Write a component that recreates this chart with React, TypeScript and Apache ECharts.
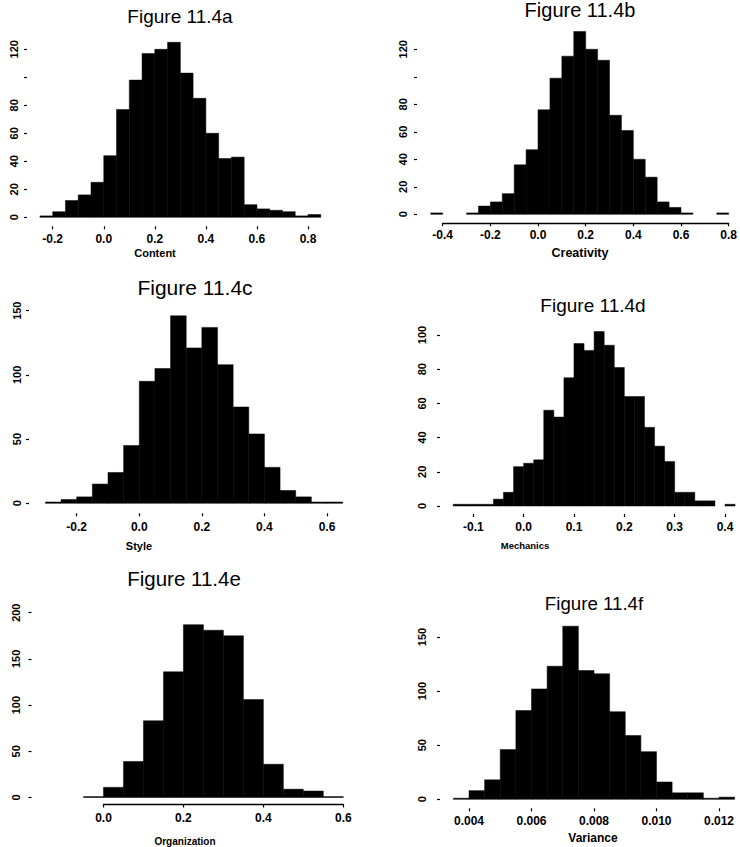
import React, { useEffect, useRef } from 'react';
import * as echarts from 'echarts';

// ---------- data ----------
const contentStart = -0.25;
const contentBin = 0.05;
const contentCounts = [1, 4, 12, 16, 25, 44, 77, 98, 117, 120, 125, 103, 85, 60, 42, 43, 9, 6, 5, 4, 1, 2];

const creativityStart = -0.45;
const creativityBin = 0.05;
const creativityCounts = [1, 0, 0, 1, 6, 9, 15, 36, 47, 76, 99, 115, 133, 120, 112, 72, 61, 40, 27, 9, 5, 1, 0, 0, 1];

const styleStart = -0.3;
const styleBin = 0.05;
const styleCounts = [1, 3, 5, 15, 24, 45, 95, 105, 146, 121, 137, 108, 75, 54, 28, 10, 5, 1, 1];

const mechanicsStart = -0.14;
const mechanicsBin = 0.02;
const mechanicsCounts = [1, 1, 1, 1, 4, 8, 23, 25, 27, 56, 52, 75, 95, 91, 102, 94, 81, 64, 64, 46, 35, 26, 8, 8, 3, 3, 0, 1];

const organizationStart = -0.05;
const organizationBin = 0.05;
const organizationCounts = [1, 11, 39, 83, 136, 187, 181, 175, 106, 36, 9, 7, 1];

const varianceStart = 0.0035;
const varianceBin = 0.0005;
const varianceCounts = [1, 8, 18, 46, 82, 102, 123, 160, 119, 116, 81, 59, 44, 16, 6, 6, 1, 2];

const titles = ['Figure 11.4a', 'Figure 11.4b', 'Figure 11.4c', 'Figure 11.4d', 'Figure 11.4e', 'Figure 11.4f'];
const xNames = ['Content', 'Creativity', 'Style', 'Mechanics', 'Organization', 'Variance'];

// x axis ranges / tick steps
const xMins = [-0.2, -0.4, -0.2, -0.1, 0, 0.004];
const xMaxs = [0.8, 0.8, 0.6, 0.4, 0.6, 0.012];
const xSteps = [0.2, 0.2, 0.2, 0.1, 0.2, 0.002];
const xDecimals = [1, 1, 1, 1, 1, 3];
// y axis ranges / tick steps
const yMaxs = [120, 120, 150, 100, 200, 150];
const ySteps = [20, 20, 50, 20, 50, 50];
const yHidden = [[100], [100], [], [], [], []];

const histData = [
  [contentStart, contentBin, contentCounts],
  [creativityStart, creativityBin, creativityCounts],
  [styleStart, styleBin, styleCounts],
  [mechanicsStart, mechanicsBin, mechanicsCounts],
  [organizationStart, organizationBin, organizationCounts],
  [varianceStart, varianceBin, varianceCounts],
] as [number, number, number[]][];

// ---------- layout ----------
const FONT = 'Liberation Sans, Arial, Helvetica, sans-serif';
const grids = [
  { left: 52.7, top: 49.3, width: 255.3, height: 168 },
  { left: 442.7, top: 49.3, width: 289, height: 165 },
  { left: 76.7, top: 310.7, width: 250.3, height: 192.6 },
  { left: 473.3, top: 335, width: 251.7, height: 171 },
  { left: 103.5, top: 612.7, width: 239.8, height: 184.8 },
  { left: 469, top: 637, width: 250, height: 162.3 },
];
const xOffsets = [9, 9, 10, 8, 7, 9];
const xLabelMargins = [7, 5.5, 7.5, 7, 7, 7];
const xLineShow = [false, true, false, false, true, false];
const yOffsets = [25.7, 25.7, 47.7, 33.3, 72, 29];
const yLabelMargins = [7.7, 8.7, 7, 12.7, 10, 12.2];
const titlePos = [
  [180, 16, 19], [580, 10, 20], [195, 287.5, 21], [593, 305.5, 19], [184, 578, 20.5], [594, 603, 18.7],
];
const namePos = [
  [155, 253, 11], [580, 253, 12.5], [139, 546, 11], [525, 545, 9.5], [185, 841, 10], [593, 838, 12],
];

function renderHist(_params: any, api: any) {
  const x0 = api.value(0) as number;
  const x1 = api.value(1) as number;
  const c = api.value(2) as number;
  if (!c) return { type: 'group', children: [] };
  const tl = api.coord([x0, c]);
  const br = api.coord([x1, 0]);
  return {
    type: 'rect',
    shape: { x: tl[0], y: tl[1], width: br[0] - tl[0], height: br[1] - tl[1] },
    style: { fill: '#000', stroke: '#000', lineWidth: 0.5 },
  };
}

export default function App() {
  const ref = useRef<HTMLDivElement>(null);
  useEffect(() => {
    if (!ref.current) return;
    const chart = echarts.init(ref.current, null, { renderer: 'svg' });

    const xAxis = grids.map((_, i) => ({
      type: 'value',
      gridIndex: i,
      min: xMins[i],
      max: xMaxs[i],
      interval: xSteps[i],
      offset: xOffsets[i],
      splitLine: { show: false },
      axisLine: { show: xLineShow[i], onZero: false, lineStyle: { color: '#000', width: 1.3 } },
      axisTick: { show: true, length: 3, lineStyle: { color: '#000', width: 1.2 } },
      axisLabel: {
        color: '#000',
        fontFamily: FONT,
        fontWeight: 'bold',
        fontSize: 12,
        margin: xLabelMargins[i],
        formatter: (v: number) => v.toFixed(xDecimals[i]),
      },
    }));

    const yAxis = grids.map((_, i) => ({
      type: 'value',
      gridIndex: i,
      min: 0,
      max: yMaxs[i],
      interval: ySteps[i],
      offset: yOffsets[i],
      splitLine: { show: false },
      axisLine: { show: false, onZero: false },
      axisTick: { show: true, length: 3, lineStyle: { color: '#000', width: 1.2 } },
      axisLabel: {
        color: '#000',
        fontFamily: FONT,
        fontWeight: 'bold',
        fontSize: 11,
        rotate: 90,
        margin: yLabelMargins[i],
        formatter: (v: number) => (yHidden[i].includes(v) ? '' : String(v)),
      },
    }));

    const series = histData.map(([start, w, counts], i) => ({
      type: 'custom',
      name: xNames[i],
      xAxisIndex: i,
      yAxisIndex: i,
      coordinateSystem: 'cartesian2d',
      clip: false,
      renderItem: renderHist,
      encode: { x: [0, 1], y: 2 },
      data: counts.map((c, k) => [
        Number((start + k * w).toFixed(6)),
        Number((start + (k + 1) * w).toFixed(6)),
        c,
      ]),
    }));

    const graphic: any[] = [];
    titles.forEach((t, i) => {
      const [x, y, fs] = titlePos[i];
      graphic.push({
        type: 'text',
        x,
        y,
        silent: true,
        style: {
          text: t,
          fill: '#000',
          fontSize: fs,
          fontFamily: FONT,
          textAlign: 'center',
          textVerticalAlign: 'middle',
        },
      });
    });
    xNames.forEach((t, i) => {
      const [x, y, fs] = namePos[i];
      graphic.push({
        type: 'text',
        x,
        y,
        silent: true,
        style: {
          text: t,
          fill: '#000',
          fontSize: fs,
          fontWeight: 'bold',
          fontFamily: FONT,
          textAlign: 'center',
          textVerticalAlign: 'middle',
        },
      });
    });

    chart.setOption({
      animation: false,
      backgroundColor: '#fff',
      grid: grids,
      xAxis,
      yAxis,
      series,
      graphic,
    } as any);

    return () => chart.dispose();
  }, []);

  return (
    <div
      ref={ref}
      style={{ position: 'absolute', left: 0, top: 0, width: 740, height: 847, background: '#fff' }}
    />
  );
}
